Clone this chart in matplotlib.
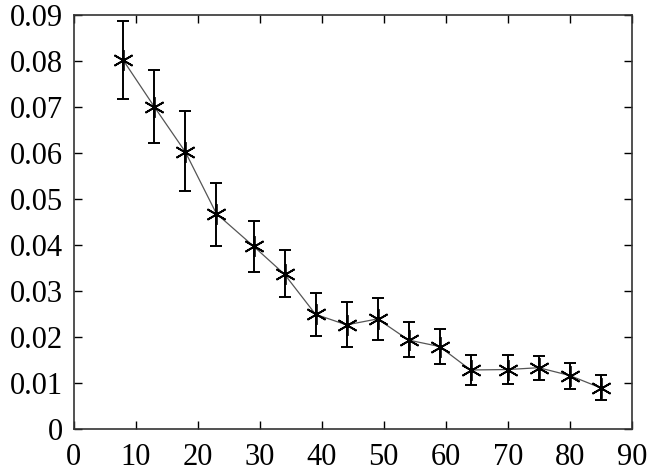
import matplotlib
matplotlib.use('Agg')
import matplotlib.pyplot as plt
import numpy as np

# Values
x = [8, 13, 18, 23, 29, 34, 39, 44, 49, 54, 59, 64, 70, 75, 80, 85]
y = [0.0802, 0.0701, 0.0603, 0.0469, 0.0398, 0.0337, 0.0250, 0.0227,
     0.0240, 0.0194, 0.0180, 0.0129, 0.0130, 0.0134, 0.0117, 0.0090]
y_upper = [0.0888, 0.0781, 0.0692, 0.0535, 0.0453, 0.0389, 0.0297, 0.0277,
           0.0285, 0.0233, 0.0219, 0.0162, 0.0162, 0.0159, 0.0145, 0.0118]
y_lower = [0.0717, 0.0623, 0.0518, 0.0399, 0.0343, 0.0287, 0.0203, 0.0180,
           0.0194, 0.0158, 0.0141, 0.0096, 0.0098, 0.0107, 0.0088, 0.0064]

x_ticks = [0, 10, 20, 30, 40, 50, 60, 70, 80, 90]
y_ticks = [0, 0.01, 0.02, 0.03, 0.04, 0.05, 0.06, 0.07, 0.08, 0.09]
y_tick_labels = ['0', '0.01', '0.02', '0.03', '0.04', '0.05', '0.06', '0.07', '0.08', '0.09']

plt.rcParams['font.family'] = ['Liberation Serif', 'DejaVu Serif']

fig = plt.figure(figsize=(6.5, 4.76), dpi=100)
ax = fig.add_axes([0.1134, 0.098, 0.8586, 0.870])

y_arr = np.array(y)
err = [y_arr - np.array(y_lower), np.array(y_upper) - y_arr]

# Connecting line
ax.plot(x, y, color='#555555', linewidth=0.9, zorder=2)

# Error bars
ax.errorbar(x, y, yerr=err, fmt='none', ecolor='black', elinewidth=1.4,
            capsize=4, capthick=1.4, zorder=3)

# Asterisk markers (vertical arm plus wide X)
ax.plot(x, y, linestyle='None', marker=(6, 2, 0), markersize=15,
        markeredgewidth=1.3, color='black', zorder=4)

ax.set_xlim(0, 90)
ax.set_ylim(0, 0.09)
ax.set_xticks(x_ticks)
ax.set_xticklabels([str(t) for t in x_ticks])
ax.set_yticks(y_ticks)
ax.set_yticklabels(y_tick_labels)

ax.tick_params(axis='both', which='both', direction='in', top=True, right=True,
               length=6, width=1, labelsize=22, pad=8, colors='black')
ax.tick_params(axis='x', pad=10)

for spine in ax.spines.values():
    spine.set_linewidth(1.2)
    spine.set_color('#333333')

fig.savefig('out.png', dpi=100)
